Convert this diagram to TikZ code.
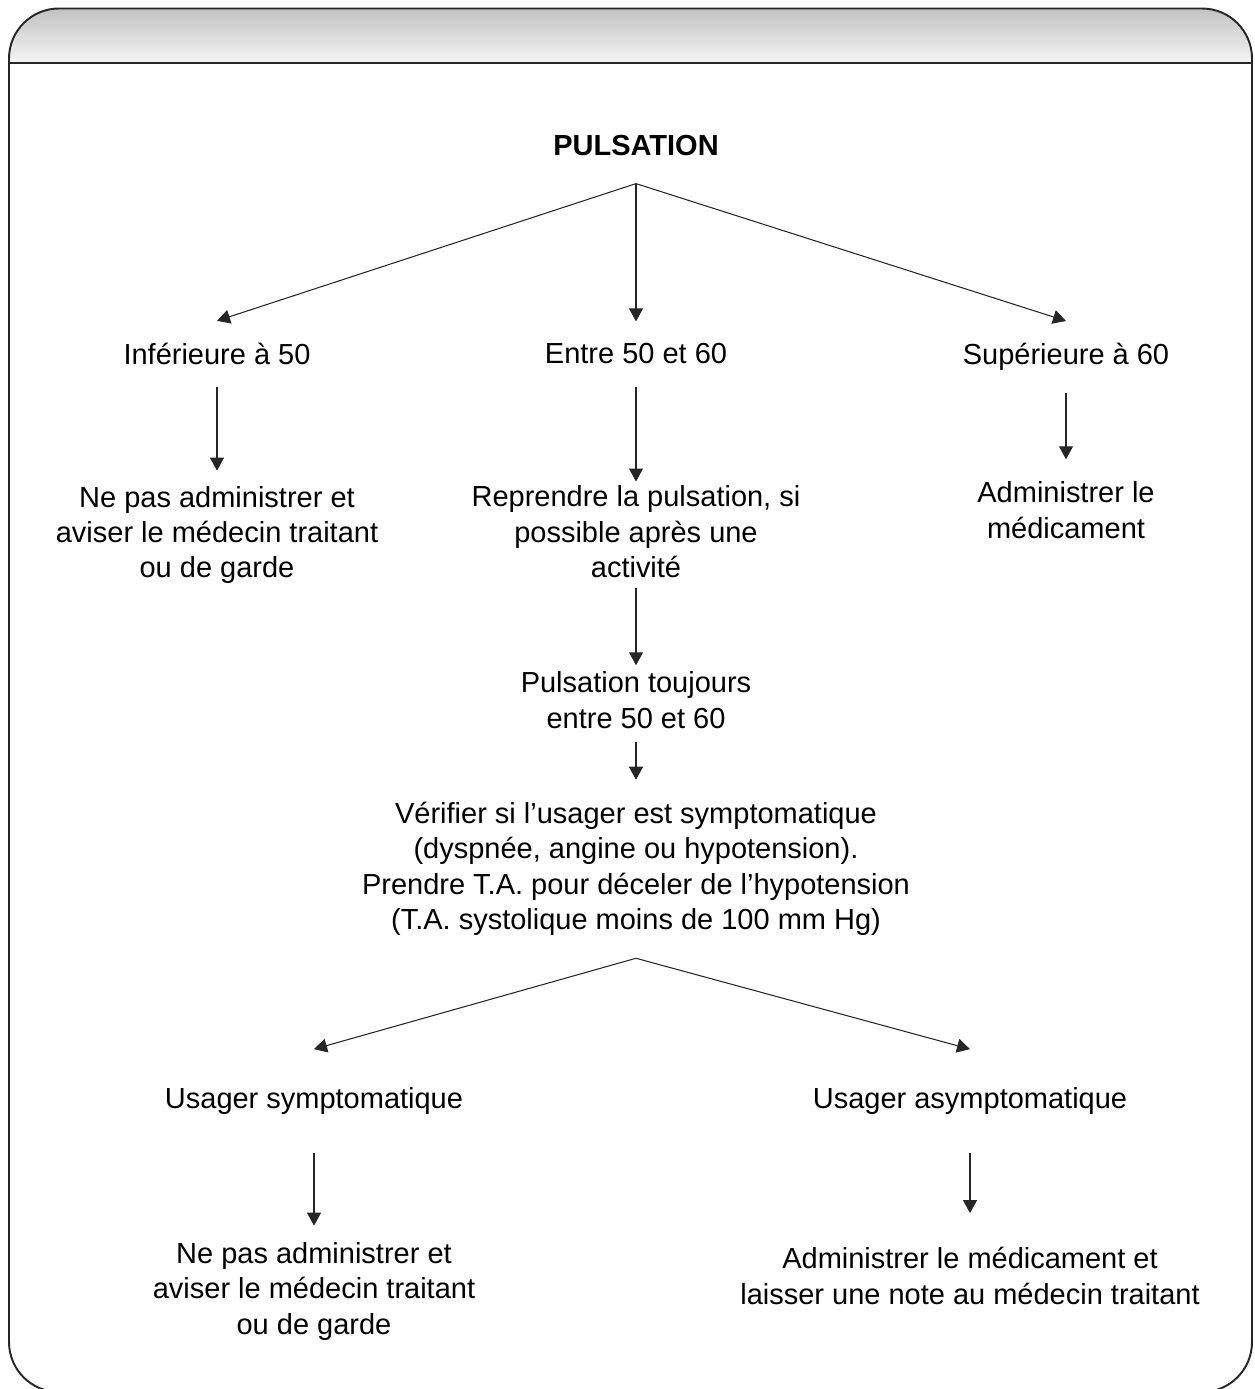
\documentclass[tikz,border=0pt]{standalone}
\usepackage{fontspec}
\setmainfont{Liberation Sans}
\usetikzlibrary{positioning, arrows.meta}

\begin{document}
\begin{tikzpicture}[
    x=0.02cm, y=-0.02cm, % one unit = one pixel of the page
    every node/.style={font=\fontsize{16.5}{20.2}\selectfont, align=center, inner xsep=0pt, inner ysep=0.44cm},
    choice/.style={inner ysep=0.76cm},
    arr/.style={-{Triangle[width=0.28cm, length=0.26cm]}, line width=0.6pt, draw=black!85}
]
    \useasboundingbox (0,0) rectangle (1254,1389);

    % 1. Frame with the shaded header band
    \begin{scope}
        \clip[rounded corners=1cm] (9,8.5) rectangle (1252,1392);
        \shade[top color=black!24, bottom color=black!4] (9,8.5) rectangle (1252,63);
    \end{scope}
    \draw[line width=1.1pt, black!85] (9,63) -- (1252,63);
    \draw[line width=1.1pt, black!85, rounded corners=1cm] (9,8.5) rectangle (1252,1392);

    % 2. Nodes
    \node (pulse) at (636,146) {\textbf{PULSATION}};
    \coordinate[below=0.1cm of pulse] (fork1);

    \node (low)  at (217,354) {Inférieure à 50};
    \node (mid)  at (636,354) {Entre 50 et 60};
    \node (high) at (1066,357) {Supérieure à 60};

    \node (stop1) at (217,535) {Ne pas administrer et\\aviser le médecin traitant\\ou de garde};
    \node (redo)  at (636,532) {Reprendre la pulsation, si\\possible après une\\activité};
    \node (give1) at (1066,510) {Administrer le\\médicament};

    \node (still) at (636,700) {Pulsation toujours\\entre 50 et 60};
    \node (check) at (636,869) {Vérifier si l’usager est symptomatique\\(dyspnée, angine ou hypotension).\\Prendre T.A. pour déceler de l’hypotension\\(T.A. systolique moins de 100 mm Hg)};
    \coordinate (fork2) at (check.south);

    \node[choice] (sym)  at (314,1101) {Usager symptomatique};
    \node[choice] (asym) at (970,1101) {Usager asymptomatique};

    \node (stop2) at (314,1291) {Ne pas administrer et\\aviser le médecin traitant\\ou de garde};
    \node (give2) at (970,1276) {Administrer le médicament et\\laisser une note au médecin traitant};

    % 3. Arrows
    \draw[arr] (fork1) -- (low.north);
    \draw[arr] (fork1) -- (mid.north);
    \draw[arr] (fork1) -- (high.north);

    \draw[arr, shorten >=-0.14cm] (low.south) -- (stop1.north);
    \draw[arr, shorten >=-0.36cm] (mid.south) -- (redo.north);
    \draw[arr] (high.south) -- (give1.north);

    \draw[arr, shorten <=-0.24cm, shorten >=-0.32cm] (redo.south) -- (still.north);
    \draw[arr, shorten <=-0.18cm] (still.south) -- (check.north);

    \draw[arr] (fork2) -- (sym.north);
    \draw[arr] (fork2) -- (asym.north);

    \draw[arr, shorten >=-0.12cm] (sym.south) -- (stop2.north);
    \draw[arr, shorten >=0.24cm] (asym.south) -- (give2.north);

\end{tikzpicture}
\end{document}
